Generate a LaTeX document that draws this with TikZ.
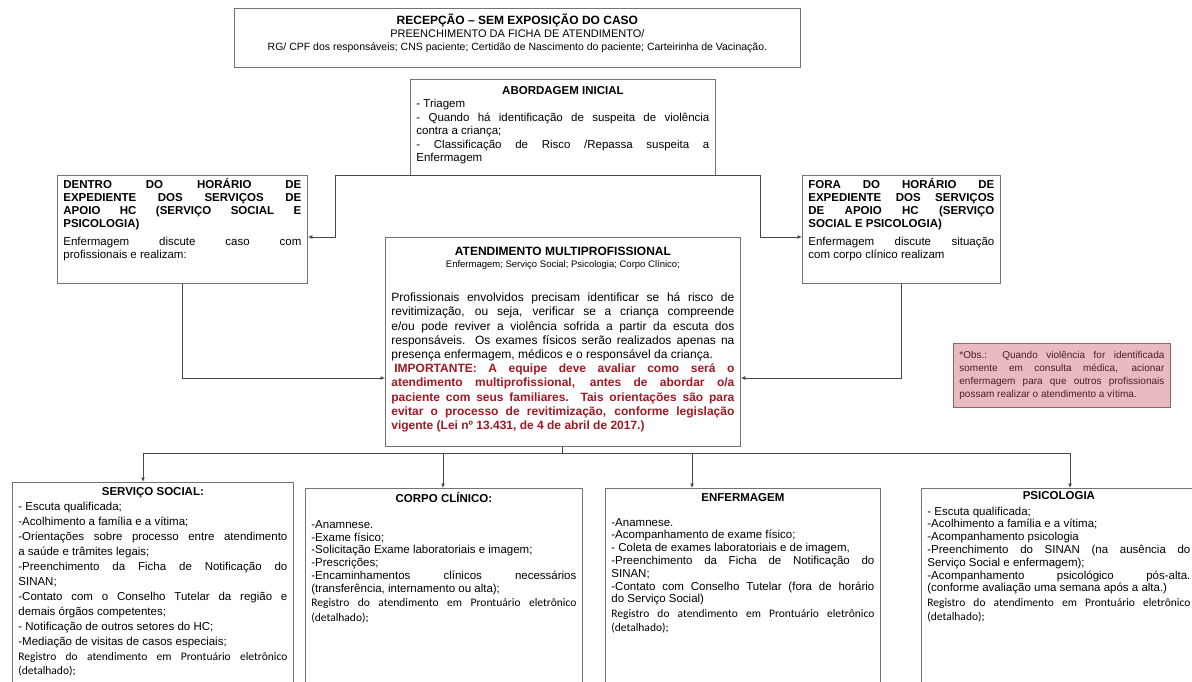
\documentclass[tikz,border=0pt]{standalone}
\usepackage{fontspec}
\setmainfont{Liberation Sans}
\newfontfamily\calib{Carlito}
\usetikzlibrary{arrows.meta}
\definecolor{boxgray}{RGB}{115,115,115}
\definecolor{linegray}{RGB}{70,70,70}
\definecolor{alertred}{RGB}{160,25,35}
\definecolor{obspink}{RGB}{233,186,191}
\definecolor{obsedge}{RGB}{140,105,105}
\definecolor{obstext}{RGB}{70,35,35}
\tolerance=10000 \hyphenpenalty=10000 \exhyphenpenalty=10000 \hbadness=10000
\newcommand{\boxtext}[3]{\parbox[c][#2pt][t]{#1pt}{#3}}
\newcommand{\boxtitle}[1]{{\centering\bfseries\strut#1\par}}
\newcommand{\registro}{{\calib\fontsize{11.5}{14.5}\selectfont Registro do atendimento em Prontuário eletrônico\linebreak (detalhado);\par}}

\begin{document}
\begin{tikzpicture}[x=1pt, y=-1pt,
  box/.style={draw=boxgray, line width=0.8pt, fill=white, anchor=north west,
    inner xsep=6pt, inner ysep=0pt, font=\fontsize{11.5}{13.5}\selectfont},
  conn/.style={draw=linegray, line width=1pt, -{Latex[length=4.5pt,width=4pt]}}]
 \useasboundingbox (0,0) rectangle (1192,682);
 \clip (0,0) rectangle (1192,682);
 \fill[white] (0,0) rectangle (1192,682);

 \node[box, font=\fontsize{11}{13}\selectfont] (recep) at (234,8) {\boxtext{554}{59}{\centering\vspace*{5pt}
  {\fontsize{12}{13}\selectfont\bfseries\strut RECEPÇÃO – SEM EXPOSIÇÃO DO CASO}\\
  PREENCHIMENTO DA FICHA DE ATENDIMENTO/\\
  {\fontsize{10.5}{13}\selectfont RG/ CPF dos responsáveis; CNS paciente; Certidão de Nascimento do paciente; Carteirinha de Vacinação.}\par}};

 \node[box] (abord) at (410,79) {\boxtext{293}{96}{\vspace*{5.5pt}\boxtitle{ABORDAGEM INICIAL}
  - Triagem\\
  - Quando há identificação de suspeita de violência\linebreak contra a criança;\\
  - Classificação de Risco /Repassa suspeita a\linebreak Enfermagem}};

 \node[box, font=\fontsize{11.5}{13}\selectfont] (dentro) at (57,175) {\boxtext{238}{108}{\vspace*{3pt}{\bfseries\strut DENTRO DO HORÁRIO DE\linebreak
  EXPEDIENTE DOS SERVIÇOS DE\linebreak APOIO HC (SERVIÇO SOCIAL E\linebreak PSICOLOGIA)\par}
  \vspace{5pt}Enfermagem discute caso com\linebreak profissionais e realizam:}};

 \node[box, font=\fontsize{11.5}{13}\selectfont] (fora) at (802,175) {\boxtext{186}{108}{\vspace*{3pt}{\bfseries\strut FORA DO HORÁRIO DE\linebreak
  EXPEDIENTE DOS SERVIÇOS\linebreak DE APOIO HC (SERVIÇO\linebreak SOCIAL E PSICOLOGIA)\par}
  \vspace{5pt}Enfermagem discute situação\linebreak com corpo clínico realizam}};

 \node[box, font=\fontsize{12}{14.2}\selectfont] (multi) at (385,237) {\boxtext{343}{209}{\vspace*{8pt}\boxtitle{ATENDIMENTO MULTIPROFISSIONAL}
  {\centering\fontsize{9.5}{11}\selectfont Enfermagem; Serviço Social; Psicologia; Corpo Clínico;\par}
  \vspace{20pt}
  Profissionais envolvidos precisam identificar se há risco de\linebreak
  revitimização, ou seja, verificar se a criança compreende\linebreak
  e/ou pode reviver a violência sofrida a partir da escuta dos\linebreak
  responsáveis. Os exames físicos serão realizados apenas na\linebreak
  presença enfermagem, médicos e o responsável da criança.\par
  {\color{alertred}\bfseries\hspace*{3pt}IMPORTANTE: A equipe deve avaliar como será o\linebreak
  atendimento multiprofissional, antes de abordar o/a\linebreak
  paciente com seus familiares. Tais orientações são para\linebreak
  evitar o processo de revitimização, conforme legislação\linebreak
  vigente (Lei nº 13.431, de 4 de abril de 2017.)\par}}};

 \node[box, fill=obspink, draw=obsedge, text=obstext, text width=205pt, align=justify,
  minimum height=64pt, font=\fontsize{10}{12.7}\selectfont] (obs) at (953,343)
  {*Obs.: Quando violência for identificada\linebreak somente em consulta médica, acionar\linebreak
   enfermagem para que outros profissionais\linebreak possam realizar o atendimento a vítima.};

 \node[box, font=\fontsize{11.5}{15}\selectfont] (social) at (12,482) {\boxtext{269}{230}{\vspace*{3pt}\boxtitle{SERVIÇO SOCIAL:}
  - Escuta qualificada;\\
  -Acolhimento a família e a vítima;\\
  -Orientações sobre processo entre atendimento\linebreak a saúde e trâmites legais;\\
  -Preenchimento da Ficha de Notificação do\linebreak SINAN;\\
  -Contato com o Conselho Tutelar da região e\linebreak demais órgãos competentes;\\
  - Notificação de outros setores do HC;\\
  -Mediação de visitas de casos especiais;\par
  \registro}};

 \node[box, font=\fontsize{11.5}{12.8}\selectfont] (corpo) at (305,488) {\boxtext{265}{230}{\vspace*{4pt}\boxtitle{CORPO CLÍNICO:}
  \vspace{13pt}
  -Anamnese.\\
  -Exame físico;\\
  -Solicitação Exame laboratoriais e imagem;\\
  -Prescrições;\\
  -Encaminhamentos clínicos necessários\linebreak (transferência, internamento ou alta);\par
  \registro}};

 \node[box, font=\fontsize{11.5}{12.8}\selectfont] (enferm) at (605,488) {\boxtext{263}{230}{\vspace*{4pt}\boxtitle{ENFERMAGEM}
  \vspace{12pt}
  -Anamnese.\\
  -Acompanhamento de exame físico;\\
  - Coleta de exames laboratoriais e de imagem,\\
  -Preenchimento da Ficha de Notificação do\linebreak SINAN;\\
  -Contato com Conselho Tutelar (fora de horário\linebreak do Serviço Social)\par
  \registro}};

 \node[box, font=\fontsize{11.5}{12.8}\selectfont] (psico) at (921,488) {\boxtext{263}{230}{\vspace*{2pt}\boxtitle{PSICOLOGIA}
  \vspace{3pt}
  - Escuta qualificada;\\
  -Acolhimento a família e a vítima;\\
  -Acompanhamento psicologia\\
  -Preenchimento do SINAN (na ausência do\linebreak Serviço Social e enfermagem);\\
  -Acompanhamento psicológico pós-alta.\linebreak (conforme avaliação uma semana após a alta.)\par
  \registro}};

 \coordinate (kL) at (335,237);
 \coordinate (kR) at (760,237);
 \coordinate (mid) at (0,378);
 \draw[conn] (abord.south) -| (kL) -- (dentro.east |- kL);
 \draw[conn] (abord.south) -| (kR) -- (fora.west |- kR);
 \draw[conn] (dentro.south) |- (multi.west |- mid);
 \draw[conn] (fora.south) |- (multi.east |- mid);
 \foreach \x/\target in {143/social, 443/corpo, 692/enferm, 1070/psico} {
  \coordinate (bus-\target) at (\x,453);
  \draw[conn] (multi.south) |- (bus-\target) -- (\target.north -| bus-\target);
 }
\end{tikzpicture}
\end{document}
